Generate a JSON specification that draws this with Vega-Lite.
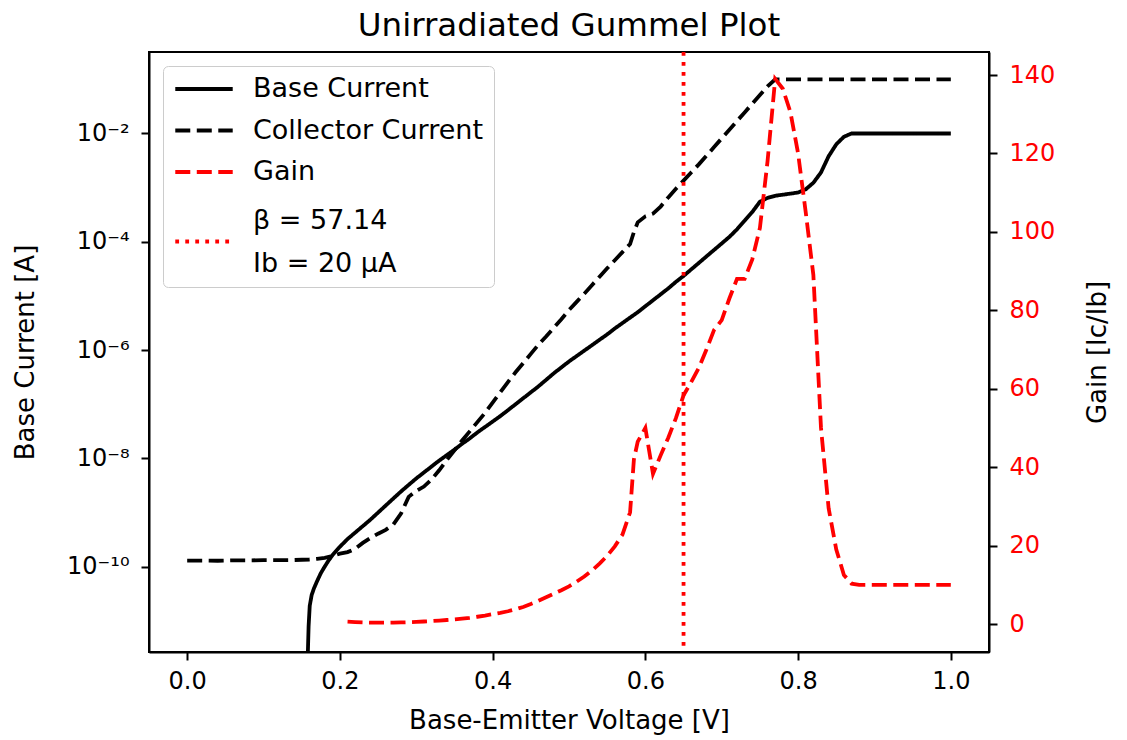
{
  "$schema": "https://vega.github.io/schema/vega-lite/v6.json",
  "width": 840,
  "height": 600,
  "autosize": {"type": "none"},
  "padding": {"left": 149, "top": 52, "right": 138, "bottom": 88},
  "background": "white",
  "title": {"text": "Unirradiated Gummel Plot", "fontSize": 32.5, "fontWeight": "normal", "color": "black", "font": "DejaVu Sans", "offset": 8},
  "config": {
    "font": "DejaVu Sans",
    "view": {"stroke": "black", "strokeWidth": 2},
    "axis": {"grid": false, "domainColor": "black", "domainWidth": 2, "tickColor": "black", "tickWidth": 2, "tickSize": 8, "labelFont": "DejaVu Sans", "labelFontSize": 24, "labelColor": "black", "titleFont": "DejaVu Sans", "titleFontSize": 26, "titleFontWeight": "normal", "titleColor": "black", "labelFlush": false, "labelOverlap": false},
    "legend": {"symbolType": "stroke", "symbolSize": 3300, "symbolStrokeWidth": 3.8, "labelFont": "DejaVu Sans", "labelFontSize": 27, "labelColor": "black", "labelOffset": 18, "labelLimit": 500, "padding": 10, "rowPadding": 14.5, "clipHeight": 26, "strokeColor": "#cccccc", "fillColor": "white", "cornerRadius": 5}
  },
  "datasets": {
    "currents": [
      {"x": 0.157, "s": "Base Current", "I": 1e-13},
      {"x": 0.158, "s": "Base Current", "I": 2.5e-12},
      {"x": 0.159, "s": "Base Current", "I": 7.9e-12},
      {"x": 0.1605, "s": "Base Current", "I": 1.9e-11},
      {"x": 0.163, "s": "Base Current", "I": 3.0e-11},
      {"x": 0.166, "s": "Base Current", "I": 3.98e-11},
      {"x": 0.17, "s": "Base Current", "I": 5.37e-11},
      {"x": 0.175, "s": "Base Current", "I": 7.59e-11},
      {"x": 0.18, "s": "Base Current", "I": 1.0e-10},
      {"x": 0.185, "s": "Base Current", "I": 1.29e-10},
      {"x": 0.19, "s": "Base Current", "I": 1.62e-10},
      {"x": 0.20, "s": "Base Current", "I": 2.34e-10},
      {"x": 0.21, "s": "Base Current", "I": 3.24e-10},
      {"x": 0.22, "s": "Base Current", "I": 4.27e-10},
      {"x": 0.23, "s": "Base Current", "I": 5.62e-10},
      {"x": 0.24, "s": "Base Current", "I": 7.41e-10},
      {"x": 0.25, "s": "Base Current", "I": 1.0e-9},
      {"x": 0.26, "s": "Base Current", "I": 1.35e-9},
      {"x": 0.27, "s": "Base Current", "I": 1.82e-9},
      {"x": 0.28, "s": "Base Current", "I": 2.45e-9},
      {"x": 0.29, "s": "Base Current", "I": 3.24e-9},
      {"x": 0.30, "s": "Base Current", "I": 4.27e-9},
      {"x": 0.31, "s": "Base Current", "I": 5.50e-9},
      {"x": 0.32, "s": "Base Current", "I": 7.08e-9},
      {"x": 0.33, "s": "Base Current", "I": 9.12e-9},
      {"x": 0.34, "s": "Base Current", "I": 1.15e-8},
      {"x": 0.35, "s": "Base Current", "I": 1.45e-8},
      {"x": 0.36, "s": "Base Current", "I": 1.86e-8},
      {"x": 0.37, "s": "Base Current", "I": 2.34e-8},
      {"x": 0.38, "s": "Base Current", "I": 3.02e-8},
      {"x": 0.39, "s": "Base Current", "I": 3.80e-8},
      {"x": 0.40, "s": "Base Current", "I": 4.79e-8},
      {"x": 0.41, "s": "Base Current", "I": 6.03e-8},
      {"x": 0.42, "s": "Base Current", "I": 7.76e-8},
      {"x": 0.43, "s": "Base Current", "I": 1.0e-7},
      {"x": 0.44, "s": "Base Current", "I": 1.29e-7},
      {"x": 0.45, "s": "Base Current", "I": 1.66e-7},
      {"x": 0.46, "s": "Base Current", "I": 2.14e-7},
      {"x": 0.47, "s": "Base Current", "I": 2.82e-7},
      {"x": 0.48, "s": "Base Current", "I": 3.72e-7},
      {"x": 0.49, "s": "Base Current", "I": 4.79e-7},
      {"x": 0.50, "s": "Base Current", "I": 6.17e-7},
      {"x": 0.51, "s": "Base Current", "I": 7.76e-7},
      {"x": 0.52, "s": "Base Current", "I": 9.77e-7},
      {"x": 0.53, "s": "Base Current", "I": 1.23e-6},
      {"x": 0.54, "s": "Base Current", "I": 1.55e-6},
      {"x": 0.55, "s": "Base Current", "I": 1.95e-6},
      {"x": 0.56, "s": "Base Current", "I": 2.51e-6},
      {"x": 0.57, "s": "Base Current", "I": 3.16e-6},
      {"x": 0.58, "s": "Base Current", "I": 3.98e-6},
      {"x": 0.59, "s": "Base Current", "I": 5.01e-6},
      {"x": 0.60, "s": "Base Current", "I": 6.46e-6},
      {"x": 0.61, "s": "Base Current", "I": 8.32e-6},
      {"x": 0.62, "s": "Base Current", "I": 1.07e-5},
      {"x": 0.63, "s": "Base Current", "I": 1.38e-5},
      {"x": 0.64, "s": "Base Current", "I": 1.82e-5},
      {"x": 0.65, "s": "Base Current", "I": 2.34e-5},
      {"x": 0.66, "s": "Base Current", "I": 3.09e-5},
      {"x": 0.67, "s": "Base Current", "I": 4.07e-5},
      {"x": 0.68, "s": "Base Current", "I": 5.37e-5},
      {"x": 0.69, "s": "Base Current", "I": 7.08e-5},
      {"x": 0.70, "s": "Base Current", "I": 9.33e-5},
      {"x": 0.71, "s": "Base Current", "I": 1.23e-4},
      {"x": 0.72, "s": "Base Current", "I": 1.70e-4},
      {"x": 0.73, "s": "Base Current", "I": 2.45e-4},
      {"x": 0.74, "s": "Base Current", "I": 3.55e-4},
      {"x": 0.75, "s": "Base Current", "I": 5.50e-4},
      {"x": 0.76, "s": "Base Current", "I": 6.46e-4},
      {"x": 0.77, "s": "Base Current", "I": 7.08e-4},
      {"x": 0.78, "s": "Base Current", "I": 7.41e-4},
      {"x": 0.79, "s": "Base Current", "I": 7.76e-4},
      {"x": 0.80, "s": "Base Current", "I": 8.13e-4},
      {"x": 0.81, "s": "Base Current", "I": 9.33e-4},
      {"x": 0.82, "s": "Base Current", "I": 1.23e-3},
      {"x": 0.83, "s": "Base Current", "I": 1.91e-3},
      {"x": 0.84, "s": "Base Current", "I": 3.80e-3},
      {"x": 0.85, "s": "Base Current", "I": 6.31e-3},
      {"x": 0.86, "s": "Base Current", "I": 8.71e-3},
      {"x": 0.87, "s": "Base Current", "I": 1.0e-2},
      {"x": 0.90, "s": "Base Current", "I": 1.0e-2},
      {"x": 0.95, "s": "Base Current", "I": 1.0e-2},
      {"x": 1.00, "s": "Base Current", "I": 1.0e-2},
      {"x": 0.00, "s": "Collector Current", "I": 1.30e-10},
      {"x": 0.02, "s": "Collector Current", "I": 1.30e-10},
      {"x": 0.04, "s": "Collector Current", "I": 1.29e-10},
      {"x": 0.06, "s": "Collector Current", "I": 1.31e-10},
      {"x": 0.08, "s": "Collector Current", "I": 1.31e-10},
      {"x": 0.10, "s": "Collector Current", "I": 1.32e-10},
      {"x": 0.12, "s": "Collector Current", "I": 1.32e-10},
      {"x": 0.14, "s": "Collector Current", "I": 1.33e-10},
      {"x": 0.16, "s": "Collector Current", "I": 1.36e-10},
      {"x": 0.17, "s": "Collector Current", "I": 1.40e-10},
      {"x": 0.18, "s": "Collector Current", "I": 1.46e-10},
      {"x": 0.19, "s": "Collector Current", "I": 1.58e-10},
      {"x": 0.20, "s": "Collector Current", "I": 1.74e-10},
      {"x": 0.21, "s": "Collector Current", "I": 1.86e-10},
      {"x": 0.22, "s": "Collector Current", "I": 2.14e-10},
      {"x": 0.23, "s": "Collector Current", "I": 2.75e-10},
      {"x": 0.24, "s": "Collector Current", "I": 3.39e-10},
      {"x": 0.25, "s": "Collector Current", "I": 4.07e-10},
      {"x": 0.26, "s": "Collector Current", "I": 4.79e-10},
      {"x": 0.27, "s": "Collector Current", "I": 6.03e-10},
      {"x": 0.28, "s": "Collector Current", "I": 9.55e-10},
      {"x": 0.29, "s": "Collector Current", "I": 1.95e-9},
      {"x": 0.30, "s": "Collector Current", "I": 2.51e-9},
      {"x": 0.31, "s": "Collector Current", "I": 3.02e-9},
      {"x": 0.32, "s": "Collector Current", "I": 4.07e-9},
      {"x": 0.33, "s": "Collector Current", "I": 6.03e-9},
      {"x": 0.34, "s": "Collector Current", "I": 9.33e-9},
      {"x": 0.35, "s": "Collector Current", "I": 1.41e-8},
      {"x": 0.36, "s": "Collector Current", "I": 2.14e-8},
      {"x": 0.37, "s": "Collector Current", "I": 3.16e-8},
      {"x": 0.38, "s": "Collector Current", "I": 4.68e-8},
      {"x": 0.39, "s": "Collector Current", "I": 6.92e-8},
      {"x": 0.40, "s": "Collector Current", "I": 1.07e-7},
      {"x": 0.41, "s": "Collector Current", "I": 1.66e-7},
      {"x": 0.42, "s": "Collector Current", "I": 2.57e-7},
      {"x": 0.43, "s": "Collector Current", "I": 3.89e-7},
      {"x": 0.44, "s": "Collector Current", "I": 5.75e-7},
      {"x": 0.45, "s": "Collector Current", "I": 8.51e-7},
      {"x": 0.46, "s": "Collector Current", "I": 1.26e-6},
      {"x": 0.47, "s": "Collector Current", "I": 1.78e-6},
      {"x": 0.48, "s": "Collector Current", "I": 2.57e-6},
      {"x": 0.49, "s": "Collector Current", "I": 3.72e-6},
      {"x": 0.50, "s": "Collector Current", "I": 5.50e-6},
      {"x": 0.51, "s": "Collector Current", "I": 7.76e-6},
      {"x": 0.52, "s": "Collector Current", "I": 1.10e-5},
      {"x": 0.53, "s": "Collector Current", "I": 1.58e-5},
      {"x": 0.54, "s": "Collector Current", "I": 2.26e-5},
      {"x": 0.55, "s": "Collector Current", "I": 3.24e-5},
      {"x": 0.56, "s": "Collector Current", "I": 4.57e-5},
      {"x": 0.57, "s": "Collector Current", "I": 6.46e-5},
      {"x": 0.58, "s": "Collector Current", "I": 9.12e-5},
      {"x": 0.585, "s": "Collector Current", "I": 1.51e-4},
      {"x": 0.59, "s": "Collector Current", "I": 2.29e-4},
      {"x": 0.60, "s": "Collector Current", "I": 2.95e-4},
      {"x": 0.61, "s": "Collector Current", "I": 3.31e-4},
      {"x": 0.62, "s": "Collector Current", "I": 4.47e-4},
      {"x": 0.63, "s": "Collector Current", "I": 6.61e-4},
      {"x": 0.64, "s": "Collector Current", "I": 9.55e-4},
      {"x": 0.65, "s": "Collector Current", "I": 1.35e-3},
      {"x": 0.66, "s": "Collector Current", "I": 1.91e-3},
      {"x": 0.67, "s": "Collector Current", "I": 2.69e-3},
      {"x": 0.68, "s": "Collector Current", "I": 3.89e-3},
      {"x": 0.69, "s": "Collector Current", "I": 5.62e-3},
      {"x": 0.70, "s": "Collector Current", "I": 8.13e-3},
      {"x": 0.71, "s": "Collector Current", "I": 1.17e-2},
      {"x": 0.72, "s": "Collector Current", "I": 1.70e-2},
      {"x": 0.73, "s": "Collector Current", "I": 2.45e-2},
      {"x": 0.74, "s": "Collector Current", "I": 3.55e-2},
      {"x": 0.75, "s": "Collector Current", "I": 5.13e-2},
      {"x": 0.76, "s": "Collector Current", "I": 7.41e-2},
      {"x": 0.77, "s": "Collector Current", "I": 0.1},
      {"x": 0.80, "s": "Collector Current", "I": 0.1},
      {"x": 0.85, "s": "Collector Current", "I": 0.1},
      {"x": 0.90, "s": "Collector Current", "I": 0.1},
      {"x": 0.95, "s": "Collector Current", "I": 0.1},
      {"x": 1.00, "s": "Collector Current", "I": 0.1}
    ],
    "gain": [
      {"x": 0.21, "s": "Gain", "g": 0.6},
      {"x": 0.22, "s": "Gain", "g": 0.5},
      {"x": 0.23, "s": "Gain", "g": 0.42},
      {"x": 0.24, "s": "Gain", "g": 0.36},
      {"x": 0.25, "s": "Gain", "g": 0.33},
      {"x": 0.26, "s": "Gain", "g": 0.33},
      {"x": 0.27, "s": "Gain", "g": 0.35},
      {"x": 0.28, "s": "Gain", "g": 0.4},
      {"x": 0.29, "s": "Gain", "g": 0.46},
      {"x": 0.30, "s": "Gain", "g": 0.55},
      {"x": 0.31, "s": "Gain", "g": 0.64},
      {"x": 0.32, "s": "Gain", "g": 0.75},
      {"x": 0.33, "s": "Gain", "g": 0.88},
      {"x": 0.34, "s": "Gain", "g": 1.02},
      {"x": 0.35, "s": "Gain", "g": 1.18},
      {"x": 0.36, "s": "Gain", "g": 1.36},
      {"x": 0.37, "s": "Gain", "g": 1.58},
      {"x": 0.38, "s": "Gain", "g": 1.85},
      {"x": 0.39, "s": "Gain", "g": 2.15},
      {"x": 0.40, "s": "Gain", "g": 2.5},
      {"x": 0.41, "s": "Gain", "g": 2.85},
      {"x": 0.42, "s": "Gain", "g": 3.25},
      {"x": 0.43, "s": "Gain", "g": 3.75},
      {"x": 0.44, "s": "Gain", "g": 4.35},
      {"x": 0.45, "s": "Gain", "g": 5.1},
      {"x": 0.46, "s": "Gain", "g": 5.9},
      {"x": 0.47, "s": "Gain", "g": 6.8},
      {"x": 0.48, "s": "Gain", "g": 7.7},
      {"x": 0.49, "s": "Gain", "g": 8.6},
      {"x": 0.50, "s": "Gain", "g": 9.6},
      {"x": 0.51, "s": "Gain", "g": 10.8},
      {"x": 0.52, "s": "Gain", "g": 12.1},
      {"x": 0.53, "s": "Gain", "g": 13.6},
      {"x": 0.54, "s": "Gain", "g": 15.4},
      {"x": 0.55, "s": "Gain", "g": 17.4},
      {"x": 0.56, "s": "Gain", "g": 19.8},
      {"x": 0.57, "s": "Gain", "g": 22.8},
      {"x": 0.58, "s": "Gain", "g": 28.5},
      {"x": 0.585, "s": "Gain", "g": 42},
      {"x": 0.59, "s": "Gain", "g": 46.5},
      {"x": 0.60, "s": "Gain", "g": 50},
      {"x": 0.61, "s": "Gain", "g": 38.3},
      {"x": 0.62, "s": "Gain", "g": 43},
      {"x": 0.63, "s": "Gain", "g": 47.5},
      {"x": 0.64, "s": "Gain", "g": 52.5},
      {"x": 0.65, "s": "Gain", "g": 58.3},
      {"x": 0.66, "s": "Gain", "g": 61.7},
      {"x": 0.67, "s": "Gain", "g": 65.3},
      {"x": 0.68, "s": "Gain", "g": 70},
      {"x": 0.69, "s": "Gain", "g": 75},
      {"x": 0.70, "s": "Gain", "g": 77.5},
      {"x": 0.71, "s": "Gain", "g": 83},
      {"x": 0.72, "s": "Gain", "g": 88},
      {"x": 0.73, "s": "Gain", "g": 88},
      {"x": 0.74, "s": "Gain", "g": 93},
      {"x": 0.75, "s": "Gain", "g": 101},
      {"x": 0.76, "s": "Gain", "g": 118},
      {"x": 0.77, "s": "Gain", "g": 139},
      {"x": 0.78, "s": "Gain", "g": 136.5},
      {"x": 0.79, "s": "Gain", "g": 130.5},
      {"x": 0.80, "s": "Gain", "g": 120},
      {"x": 0.81, "s": "Gain", "g": 105},
      {"x": 0.82, "s": "Gain", "g": 89},
      {"x": 0.83, "s": "Gain", "g": 50},
      {"x": 0.84, "s": "Gain", "g": 29.5},
      {"x": 0.85, "s": "Gain", "g": 19},
      {"x": 0.86, "s": "Gain", "g": 12.5},
      {"x": 0.87, "s": "Gain", "g": 10.3},
      {"x": 0.88, "s": "Gain", "g": 10},
      {"x": 0.92, "s": "Gain", "g": 10},
      {"x": 0.96, "s": "Gain", "g": 10},
      {"x": 1.00, "s": "Gain", "g": 10}
    ],
    "marker": [
      {"x": 0.65, "s": "β = 57.14|Ib = 20 μA"}
    ]
  },
  "encoding": {
    "x": {"field": "x", "type": "quantitative", "scale": {"domain": [-0.05, 1.05], "nice": false, "zero": false}, "axis": {"values": [0, 0.2, 0.4, 0.6, 0.8, 1.0], "format": ".1f", "title": "Base-Emitter Voltage [V]", "labelPadding": 9, "titlePadding": 14}},
    "color": {"field": "s", "type": "nominal", "scale": {"domain": ["Base Current", "Collector Current", "Gain", "β = 57.14|Ib = 20 μA"], "range": ["black", "black", "red", "red"]}, "legend": {"title": null, "orient": "none", "legendX": 14, "legendY": 14, "labelExpr": "indexof(datum.label, '|') >= 0 ? split(datum.label, '|') : datum.label", "encode": {"labels": {"update": {"lineHeight": [{"test": "indexof(datum.label, '|') >= 0", "value": 43}, {"value": 27}], "y": [{"test": "indexof(datum.label, '|') >= 0", "value": 21}, {"value": 13}]}}, "symbols": {"update": {"y": [{"test": "indexof(datum.label, '|') >= 0", "value": 42}, {"value": 13}]}}}}},
    "strokeDash": {"field": "s", "type": "nominal", "scale": {"domain": ["Base Current", "Collector Current", "Gain", "β = 57.14|Ib = 20 μA"], "range": [[1, 0], [15, 6.5], [15, 6.5], [3.8, 6.2]]}, "legend": {"title": null, "orient": "none", "legendX": 14, "legendY": 14, "labelExpr": "indexof(datum.label, '|') >= 0 ? split(datum.label, '|') : datum.label", "encode": {"labels": {"update": {"lineHeight": [{"test": "indexof(datum.label, '|') >= 0", "value": 43}, {"value": 27}], "y": [{"test": "indexof(datum.label, '|') >= 0", "value": 21}, {"value": 13}]}}, "symbols": {"update": {"y": [{"test": "indexof(datum.label, '|') >= 0", "value": 42}, {"value": 13}]}}}}}
  },
  "layer": [
    {
      "data": {"name": "currents"},
      "mark": {"type": "line", "strokeWidth": 3.8, "clip": true},
      "encoding": {
        "y": {"field": "I", "type": "quantitative", "scale": {"type": "log", "domain": [2.661e-12, 0.3199], "nice": false, "zero": false}, "axis": {"orient": "left", "values": [1e-10, 1e-8, 1e-6, 1e-4, 1e-2], "labelExpr": "datum.value < 3e-10 ? '10⁻¹⁰' : datum.value < 3e-8 ? '10⁻⁸' : datum.value < 3e-6 ? '10⁻⁶' : datum.value < 3e-4 ? '10⁻⁴' : '10⁻²'", "title": "Base Current [A]", "labelPadding": 12, "titlePadding": 28}}
      }
    },
    {
      "data": {"name": "gain"},
      "mark": {"type": "line", "strokeWidth": 3.8, "clip": true},
      "encoding": {
        "y": {"field": "g", "type": "quantitative", "scale": {"domain": [-7.14, 145.87], "nice": false, "zero": false}, "axis": {"orient": "right", "values": [0, 20, 40, 60, 80, 100, 120, 140], "labelColor": "red", "title": "Gain [Ic/Ib]", "titleAngle": -90, "titleBaseline": "top", "labelPadding": 12, "titlePadding": 30}}
      }
    },
    {
      "data": {"name": "marker"},
      "mark": {"type": "rule", "strokeWidth": 3.8},
      "encoding": {}
    }
  ],
  "resolve": {"scale": {"y": "independent"}}
}
